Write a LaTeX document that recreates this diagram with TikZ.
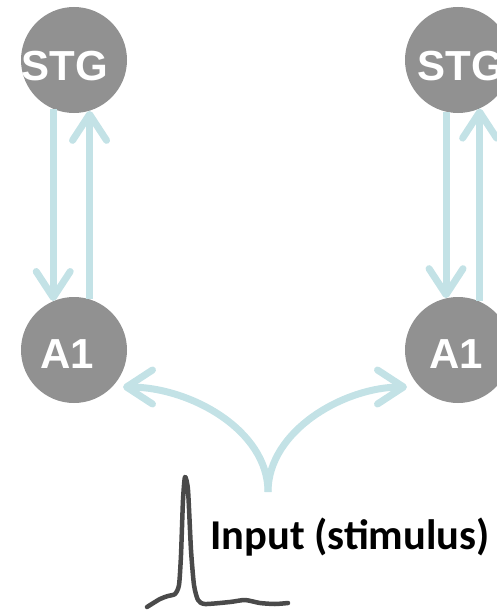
\documentclass[tikz,border=0pt]{standalone}
\usepackage{fontspec}
\setmainfont{Liberation Sans}
\newfontfamily\calib{Carlito}
\usetikzlibrary{arrows.meta}
\definecolor{nodegray}{HTML}{919191}
\definecolor{arrblue}{HTML}{C3E2E6}
\definecolor{wavegray}{HTML}{4A4A4A}
\begin{document}
\begin{tikzpicture}[x=1pt,y=-1pt,
  region/.style={circle,fill=nodegray,minimum size=106pt,inner sep=0pt},
  rlabel/.style={anchor=base,text=white,font=\fontsize{42}{42}\selectfont\bfseries,inner sep=0pt},
  conn/.style={draw=arrblue,line width=7pt,-{Straight Barb[length=26pt,width=34pt,round]}},
  wave/.style={draw=wavegray,line width=4.5pt,line cap=round,line join=round}]
\useasboundingbox (0,0) rectangle (497,610);
% regions
\node[region] (stgL) at (74,60) {};
\node[region] (a1L) at (74,350) {};
\node[region] (stgR) at (458,60) {};
\node[region] (a1R) at (458,350) {};
\node[rlabel] (tstgL) at (65,80) {STG};
\node[rlabel] (ta1L) at (67.5,368) {A1};
\node[rlabel] (tstgR) at (461,80) {STG};
\node[rlabel] (ta1R) at (456,368) {A1};
% vertical connectors
\draw[conn] (stgL.-113.3) -- (a1L.113.3);
\draw[conn] (a1L.73.6) -- (stgL.-73.6);
\draw[conn] (stgR.-103.1) -- (a1R.103.1);
\draw[conn] (a1R.66.6) -- (stgR.-66.6);
% input
\coordinate (src) at (268,492);
\coordinate (tipL) at (123,387);
\coordinate (tipR) at (407,387);
\draw[conn] (src) .. controls (268,430) and (190,387) .. (tipL);
\draw[conn] (src) .. controls (268,430) and (345,387) .. (tipR);
% stimulus wave
\draw[wave] plot[smooth,tension=0.4] coordinates {(147,607) (160,599) (168,596) (175,594) (179,585) (181,555) (183,500) (185,477) (188,490) (191,550) (194,585) (198,600) (205,604) (230,602) (245,600) (260,603) (275,604) (288,603)};
\node[anchor=base west,inner sep=0pt,font=\calib\fontsize{42.5}{42.5}\selectfont\bfseries] (inp) at (210,549) {Input (stimulus)};
\end{tikzpicture}
\end{document}
